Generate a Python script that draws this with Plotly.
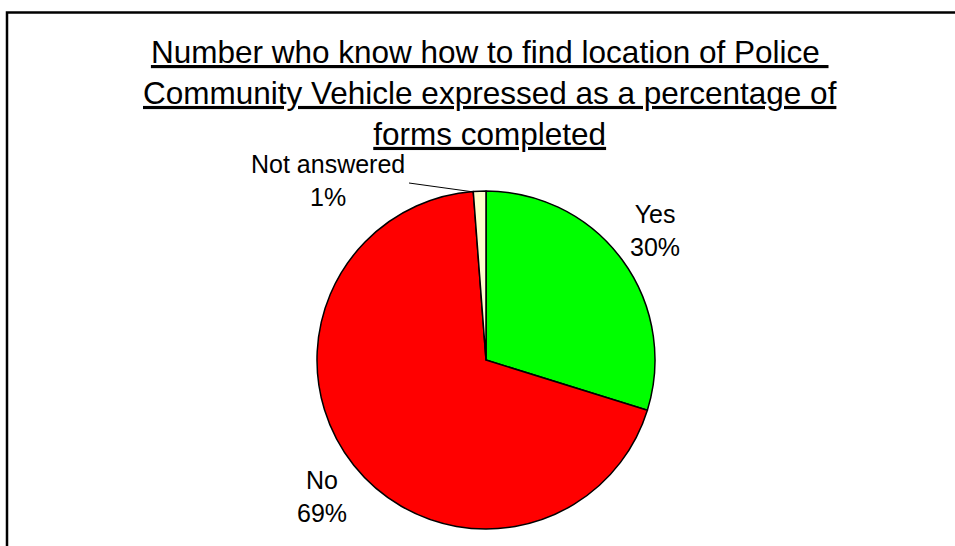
import plotly.graph_objects as go

labels = ["Yes", "No", "Not answered"]
values = [29.8, 69.0, 1.2]
colors = ["#00FF00", "#FF0000", "#FFFFCC"]

title_lines = [
    "Number who know how to find location of Police\u00a0",
    "Community Vehicle expressed as a percentage of",
    "forms completed",
]

W, H = 955, 546


def px_x(x):
    return x / W


def px_y(y):
    return 1 - y / H


fig = go.Figure()
fig.add_trace(go.Pie(
    labels=labels,
    values=values,
    sort=False,
    direction="clockwise",
    rotation=0,
    marker=dict(colors=colors, line=dict(color="black", width=1.5)),
    textinfo="none",
    hoverinfo="label+percent",
    showlegend=False,
    domain=dict(x=[px_x(317), px_x(655)], y=[px_y(529), px_y(191)]),
))

# label positions (pixel centres)
label_pos = {"Yes": (655, 230), "No": (322, 496), "Not answered": (328, 181)}
total = sum(values)
annotations = []
for lab, val in zip(labels, values):
    cx, cy = label_pos[lab]
    annotations.append(dict(
        x=px_x(cx), y=px_y(cy), xref="paper", yref="paper",
        text=f"{lab}<br>{round(val / total * 100)}%",
        showarrow=False, xanchor="center", yanchor="middle",
        font=dict(family="Liberation Sans, Arial", size=25, color="black"),
    ))

annotations.append(dict(
    x=px_x(490), y=px_y(32), xref="paper", yref="paper",
    text="<br>".join(f"<u>{t}</u>" for t in title_lines),
    showarrow=False, xanchor="center", yanchor="top",
    font=dict(family="Liberation Sans, Arial", size=31.5, color="black"),
))

fig.update_layout(
    width=W, height=H,
    margin=dict(l=0, r=0, t=0, b=0),
    paper_bgcolor="white",
    plot_bgcolor="white",
    annotations=annotations,
    shapes=[
        # chart frame (runs off the right and bottom edges)
        dict(type="rect", xref="paper", yref="paper",
             x0=px_x(7), x1=px_x(965), y0=px_y(560), y1=px_y(12.5),
             line=dict(color="black", width=2.5)),
        # leader line for "Not answered"
        dict(type="line", xref="paper", yref="paper",
             x0=px_x(409), y0=px_y(183), x1=px_x(474), y1=px_y(192),
             line=dict(color="black", width=1)),
    ],
)

# drop the default 8px body margin so the figure fills the window
fig.write_html("out.html", config={"displayModeBar": False},
               post_script="document.body.style.margin = '0';")
